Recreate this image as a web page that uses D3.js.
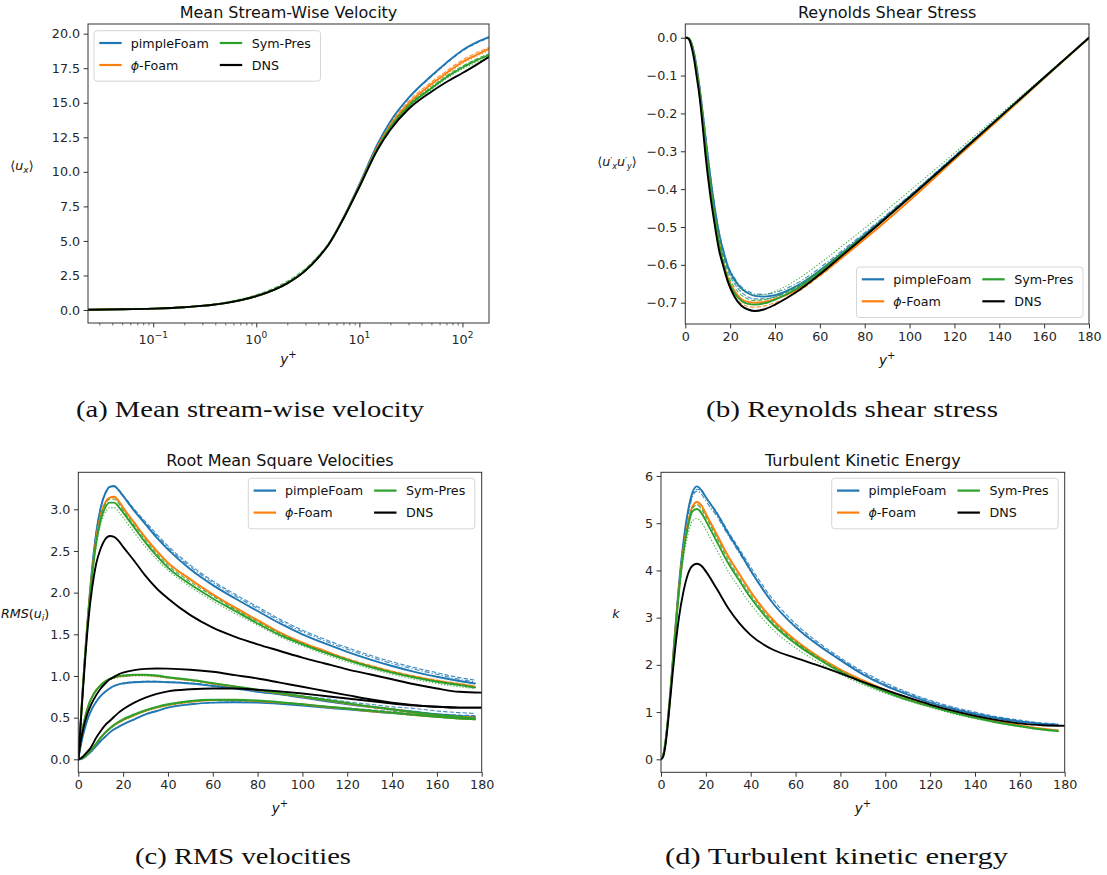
<!DOCTYPE html>
<html><head><meta charset="utf-8">
<script src="https://cdn.jsdelivr.net/npm/d3@7"></script>
<style>
body{margin:0;background:#fff;}
</style></head><body>
<svg id="fig" width="1107" height="875" style="font-family:'DejaVu Sans',sans-serif"></svg>
<script>
// ---------------- DATA ----------------
const methods = ["pimpleFoam", "ϕ-Foam", "Sym-Pres", "DNS"];

// (a) mean stream-wise velocity, log y+
const yA = [0.0233,0.05,0.1,0.2,0.5,1,1.5,2,3,4,5,7,10,15,20,30,50,70,100,140,180];
const aDNS     = [0.023,0.05,0.1,0.2,0.5,1.0,1.47,1.93,2.85,3.8,4.7,6.6,8.9,11.6,13.05,14.55,15.8,16.5,17.15,17.8,18.3];
const aPimple  = [0.023,0.05,0.1,0.2,0.5,1.0,1.48,1.95,2.88,3.83,4.74,6.68,9.1,12.0,13.65,15.35,16.95,17.9,18.8,19.4,19.75];
const aPimple2 = [0.023,0.05,0.1,0.2,0.5,1.0,1.48,1.95,2.88,3.83,4.74,6.68,9.1,11.95,13.6,15.3,16.9,17.85,18.75,19.35,19.68];
const aPhi     = [0.023,0.05,0.1,0.2,0.5,1.0,1.48,1.95,2.87,3.82,4.72,6.65,9.0,11.8,13.35,14.95,16.35,17.15,17.95,18.5,18.9];
const aPhi2    = [0.023,0.05,0.1,0.2,0.5,1.0,1.48,1.95,2.87,3.82,4.72,6.65,9.0,11.85,13.45,15.1,16.5,17.3,18.1,18.65,19.0];
const aPhi3    = [0.023,0.05,0.1,0.2,0.5,1.0,1.48,1.95,2.87,3.82,4.72,6.64,8.98,11.75,13.27,14.85,16.25,17.05,17.85,18.4,18.75];
const aSym     = [0.023,0.05,0.1,0.2,0.5,1.0,1.48,1.95,2.87,3.81,4.71,6.62,8.95,11.7,13.2,14.75,16.05,16.85,17.55,18.1,18.45];
const aSym2    = [0.023,0.05,0.1,0.21,0.55,1.1,1.6,2.08,3.0,3.92,4.8,6.7,9.0,11.75,13.3,14.85,16.15,16.95,17.65,18.2,18.55];
const aSym3    = [0.023,0.05,0.1,0.2,0.5,1.0,1.48,1.95,2.86,3.8,4.7,6.6,8.92,11.65,13.13,14.65,15.95,16.75,17.45,17.95,18.3];

// (b) Reynolds shear stress
const yB = [0,1,2,3,4,5,6,7,8,9,11,13,15,17,19,22,25,28,31,35,40,50,60,70,80,100,120,140,160,180];
const bDNS     = [0,-0.001,-0.008,-0.03,-0.06,-0.10,-0.14,-0.19,-0.25,-0.31,-0.41,-0.49,-0.56,-0.605,-0.645,-0.685,-0.708,-0.718,-0.722,-0.718,-0.705,-0.67,-0.625,-0.575,-0.525,-0.422,-0.317,-0.211,-0.105,0];
const bPimple  = [0,0,-0.004,-0.018,-0.042,-0.076,-0.115,-0.16,-0.21,-0.262,-0.36,-0.445,-0.515,-0.565,-0.605,-0.64,-0.662,-0.675,-0.682,-0.684,-0.68,-0.655,-0.615,-0.568,-0.52,-0.42,-0.315,-0.21,-0.105,0];
const bPimple2 = [0,0,-0.005,-0.02,-0.045,-0.08,-0.12,-0.166,-0.218,-0.27,-0.37,-0.455,-0.525,-0.578,-0.615,-0.65,-0.672,-0.685,-0.69,-0.69,-0.685,-0.658,-0.616,-0.569,-0.52,-0.42,-0.315,-0.21,-0.105,0];
const bPimple3 = [0,0,-0.004,-0.017,-0.04,-0.073,-0.11,-0.155,-0.205,-0.255,-0.352,-0.44,-0.51,-0.56,-0.6,-0.635,-0.658,-0.67,-0.677,-0.678,-0.673,-0.648,-0.608,-0.562,-0.515,-0.416,-0.312,-0.208,-0.104,0];
const bPhi     = [0,0,-0.006,-0.022,-0.05,-0.085,-0.125,-0.172,-0.225,-0.28,-0.385,-0.47,-0.54,-0.595,-0.635,-0.67,-0.69,-0.698,-0.7,-0.698,-0.69,-0.666,-0.627,-0.58,-0.532,-0.43,-0.322,-0.215,-0.107,0];
const bPhi2    = [0,0,-0.006,-0.023,-0.052,-0.088,-0.13,-0.178,-0.232,-0.288,-0.395,-0.482,-0.553,-0.608,-0.648,-0.683,-0.702,-0.71,-0.712,-0.709,-0.7,-0.672,-0.63,-0.582,-0.533,-0.43,-0.322,-0.215,-0.107,0];
const bSym     = [0,0,-0.006,-0.023,-0.05,-0.087,-0.13,-0.176,-0.23,-0.285,-0.39,-0.475,-0.545,-0.6,-0.64,-0.675,-0.695,-0.703,-0.705,-0.702,-0.692,-0.662,-0.62,-0.572,-0.524,-0.422,-0.317,-0.211,-0.106,0];
const bSym2    = [0,0,-0.005,-0.02,-0.046,-0.08,-0.12,-0.165,-0.218,-0.272,-0.375,-0.46,-0.53,-0.585,-0.625,-0.66,-0.68,-0.69,-0.694,-0.692,-0.684,-0.655,-0.614,-0.567,-0.52,-0.42,-0.316,-0.211,-0.105,0];
const bSym3    = [0,0,-0.005,-0.02,-0.046,-0.08,-0.12,-0.165,-0.215,-0.268,-0.37,-0.452,-0.52,-0.572,-0.61,-0.645,-0.665,-0.675,-0.68,-0.679,-0.67,-0.638,-0.596,-0.55,-0.503,-0.405,-0.305,-0.204,-0.102,0];

// (c) RMS velocities (u, w, v components)
const yC    = [0,1,2,3,4,5,6,8,10,12,14,16,18,20,25,30,35,40,50,60,70,80,90,100,110,120,130,140,150,160,170,177];
const yCdns = [0,1,2,3,4,5,6,8,10,12,14,16,18,20,25,30,35,40,50,60,70,80,90,100,110,120,130,140,150,160,170,180];
const cDNSu = [0,0.4,0.8,1.18,1.52,1.8,2.02,2.35,2.53,2.64, 2.68,2.67,2.62,2.55,2.38,2.2,2.05,1.93,1.73,1.58, 1.47,1.38,1.3,1.22,1.15,1.08,1.02,0.96,0.9,0.85, 0.81,0.80];
const cDNSw = [0,0.2,0.34,0.45,0.54,0.61,0.67,0.77,0.85,0.91, 0.96,0.99,1.02,1.04,1.07,1.085,1.09,1.088,1.075,1.05, 1.01,0.97,0.92,0.87,0.82,0.77,0.72,0.68,0.65,0.63, 0.62,0.62];
const cDNSv = [0,0.01,0.03,0.06,0.09,0.12,0.16,0.26,0.34,0.41, 0.46,0.51,0.56,0.6,0.68,0.74,0.785,0.815,0.84,0.85, 0.85,0.835,0.815,0.79,0.76,0.73,0.70,0.67,0.645,0.63, 0.62,0.62];
const cPimpleU  = [0,0.42,0.85,1.25,1.62,1.95,2.25,2.72,3.02,3.19, 3.27,3.28,3.23,3.16,2.98,2.82,2.66,2.52,2.28,2.09, 1.93,1.78,1.63,1.5,1.39,1.29,1.2,1.12,1.05,0.99, 0.94,0.91];
const cPimpleU2 = [0,0.42,0.85,1.25,1.62,1.95,2.25,2.72,3.02,3.19, 3.27,3.28,3.24,3.17,3.0,2.85,2.7,2.56,2.33,2.14, 1.98,1.83,1.68,1.55,1.44,1.34,1.25,1.17,1.1,1.04, 0.98,0.95];
const cPimpleU3 = [0,0.42,0.85,1.25,1.62,1.95,2.25,2.72,3.02,3.18, 3.26,3.27,3.22,3.16,2.99,2.83,2.68,2.54,2.31,2.12, 1.96,1.81,1.66,1.53,1.42,1.32,1.23,1.15,1.08,1.02, 0.96,0.93];
const cPhiU  = [0,0.42,0.85,1.25,1.6,1.93,2.2,2.65,2.93,3.08, 3.14,3.15,3.1,3.02,2.84,2.66,2.5,2.36,2.16,1.98, 1.82,1.67,1.52,1.4,1.3,1.2,1.12,1.05,0.99,0.94, 0.9,0.87];
const cPhiU2 = [0,0.42,0.85,1.25,1.6,1.93,2.2,2.64,2.92,3.07, 3.13,3.14,3.09,3.01,2.83,2.65,2.49,2.35,2.15,1.97, 1.81,1.66,1.52,1.4,1.3,1.21,1.13,1.06,1.0,0.95, 0.91,0.88];
const cSymU  = [0,0.42,0.85,1.24,1.58,1.9,2.17,2.6,2.87,3.02, 3.08,3.08,3.03,2.96,2.78,2.6,2.44,2.3,2.1,1.93, 1.78,1.63,1.49,1.38,1.28,1.19,1.11,1.04,0.98,0.93, 0.89,0.86];
const cSymU2 = [0,0.41,0.83,1.22,1.56,1.87,2.13,2.55,2.82,2.96, 3.02,3.02,2.97,2.9,2.72,2.55,2.4,2.27,2.07,1.9, 1.75,1.61,1.47,1.36,1.26,1.17,1.09,1.02,0.96,0.91, 0.87,0.85];
const cSymU3 = [0,0.42,0.85,1.25,1.6,1.92,2.19,2.63,2.91,3.06, 3.12,3.12,3.07,2.99,2.81,2.63,2.47,2.33,2.13,1.96, 1.8,1.65,1.51,1.39,1.29,1.2,1.12,1.05,0.99,0.94, 0.9,0.87];
const cPimpleW  = [0,0.15,0.28,0.38,0.47,0.54,0.6,0.69,0.76,0.81, 0.85,0.88,0.9,0.91,0.925,0.93,0.93,0.925,0.91,0.88, 0.85,0.81,0.78,0.74,0.70,0.66,0.63,0.6,0.57,0.54, 0.52,0.51];
const cPimpleW2 = [0,0.15,0.28,0.38,0.47,0.54,0.6,0.69,0.76,0.81, 0.85,0.88,0.9,0.915,0.93,0.935,0.935,0.93,0.915,0.89, 0.86,0.83,0.8,0.76,0.73,0.69,0.66,0.63,0.61,0.58, 0.56,0.55];
const cPhiW  = [0,0.22,0.38,0.5,0.6,0.68,0.74,0.83,0.89,0.93, 0.96,0.98,0.995,1.0,1.01,1.01,1.0,0.98,0.95,0.91, 0.87,0.83,0.79,0.75,0.71,0.67,0.63,0.6,0.56,0.53, 0.51,0.5];
const cSymW  = [0,0.22,0.38,0.5,0.6,0.68,0.74,0.83,0.89,0.935, 0.965,0.985,1.0,1.005,1.015,1.015,1.005,0.985,0.955,0.915, 0.875,0.835,0.795,0.755,0.715,0.675,0.635,0.6,0.565,0.535, 0.51,0.49];
const cSymW2 = [0,0.21,0.37,0.49,0.59,0.67,0.73,0.82,0.88,0.92, 0.95,0.97,0.985,0.99,1.0,1.0,0.99,0.975,0.945,0.905, 0.865,0.825,0.785,0.745,0.705,0.665,0.625,0.59,0.555,0.525, 0.5,0.49];
const cPimpleV  = [0,0.003,0.012,0.028,0.05,0.075,0.1,0.16,0.22,0.27, 0.32,0.36,0.39,0.42,0.48,0.54,0.58,0.62,0.66,0.68, 0.685,0.68,0.665,0.645,0.62,0.6,0.575,0.555,0.535,0.52, 0.505,0.5];
const cPimpleV2 = [0,0.003,0.012,0.028,0.05,0.075,0.1,0.16,0.22,0.27, 0.32,0.36,0.39,0.42,0.48,0.54,0.58,0.62,0.66,0.68, 0.69,0.685,0.675,0.655,0.635,0.615,0.595,0.575,0.56,0.545, 0.53,0.525];
const cPhiV  = [0,0.004,0.015,0.035,0.06,0.09,0.12,0.19,0.26,0.32, 0.37,0.41,0.44,0.47,0.53,0.58,0.62,0.65,0.69,0.71, 0.71,0.70,0.68,0.66,0.63,0.61,0.58,0.56,0.53,0.51, 0.49,0.48];
const cSymV  = [0,0.004,0.015,0.035,0.06,0.09,0.12,0.19,0.26,0.32, 0.37,0.415,0.45,0.48,0.54,0.59,0.63,0.66,0.7,0.715, 0.715,0.705,0.685,0.66,0.635,0.61,0.585,0.56,0.535,0.51, 0.49,0.48];
const cSymV2 = [0,0.004,0.014,0.033,0.058,0.087,0.117,0.185,0.25,0.31, 0.36,0.4,0.435,0.465,0.525,0.575,0.615,0.645,0.685,0.705, 0.705,0.695,0.675,0.655,0.625,0.6,0.575,0.55,0.525,0.505, 0.485,0.475];

// (d) turbulent kinetic energy
const dDNS     = [0,0.06,0.3,0.72,1.22,1.72,2.2,3.0,3.55,3.92, 4.1,4.14,4.1,3.98,3.6,3.2,2.88,2.63,2.32,2.15, 1.99,1.82,1.64,1.47,1.31,1.16,1.03,0.92,0.83,0.76, 0.72,0.71];
const dPimple  = [0,0.09,0.38,0.82,1.35,1.95,2.55,3.7,4.6,5.25, 5.65,5.78,5.7,5.55,5.2,4.78,4.4,4.0,3.3,2.8, 2.42,2.1,1.8,1.56,1.37,1.2,1.07,0.96,0.87,0.8, 0.75,0.72];
const dPimple2 = [0,0.09,0.38,0.82,1.35,1.95,2.55,3.7,4.58,5.2, 5.6,5.72,5.68,5.55,5.22,4.82,4.45,4.07,3.38,2.87, 2.48,2.15,1.86,1.62,1.42,1.25,1.11,1.0,0.9,0.83, 0.77,0.75];
const dPimple3 = [0,0.09,0.38,0.82,1.35,1.95,2.55,3.68,4.55,5.15, 5.55,5.68,5.62,5.47,5.14,4.74,4.36,3.98,3.3,2.82, 2.44,2.12,1.83,1.59,1.4,1.23,1.09,0.98,0.89,0.81, 0.76,0.74];
const dPhi     = [0,0.09,0.37,0.8,1.3,1.9,2.5,3.6,4.45,5.0, 5.35,5.45,5.38,5.2,4.75,4.3,3.92,3.55,2.95,2.52, 2.18,1.9,1.67,1.47,1.3,1.15,1.02,0.91,0.81,0.72, 0.65,0.61];
const dPhi2    = [0,0.09,0.37,0.8,1.3,1.88,2.47,3.56,4.4,4.95, 5.3,5.4,5.34,5.17,4.72,4.28,3.9,3.53,2.93,2.5, 2.17,1.89,1.66,1.46,1.29,1.14,1.01,0.9,0.8,0.72, 0.65,0.62];
const dSym     = [0,0.09,0.37,0.79,1.28,1.87,2.45,3.55,4.38,4.92, 5.25,5.3,5.22,5.05,4.6,4.15,3.78,3.42,2.85,2.45, 2.13,1.85,1.62,1.43,1.26,1.12,0.99,0.88,0.78,0.7, 0.63,0.6];
const dSym2    = [0,0.09,0.36,0.77,1.25,1.82,2.38,3.45,4.25,4.75, 5.05,5.1,5.02,4.86,4.42,3.98,3.62,3.28,2.74,2.36, 2.06,1.8,1.58,1.4,1.24,1.1,0.97,0.86,0.77,0.69, 0.62,0.59];
const dSym3    = [0,0.09,0.37,0.8,1.3,1.9,2.48,3.6,4.42,4.98, 5.32,5.38,5.3,5.13,4.68,4.22,3.84,3.48,2.9,2.49, 2.16,1.88,1.64,1.45,1.28,1.13,1.0,0.89,0.79,0.71, 0.64,0.6];

// ticks
const aLogMajor = [0.1, 1, 10, 100];
const aLogLabels = ["−1", "0", "1", "2"];
const aYTicks = [0, 2.5, 5, 7.5, 10, 12.5, 15, 17.5, 20];
const linTicksX = [0,20,40,60,80,100,120,140,160,180];
const bYTicks = [0,-0.1,-0.2,-0.3,-0.4,-0.5,-0.6,-0.7];
const cYTicks = [0,0.5,1,1.5,2,2.5,3];
const dYTicks = [0,1,2,3,4,5,6];

// ---------------- DRAWING ----------------
const svg = d3.select('#fig');
const COL = {pimple:'#1f77b4', phi:'#ff7f0e', sym:'#2ca02c', dns:'#000000'};
const FS = 12.7;
const STY = {
  main:{w:1.9, dash:null, op:1},
  dash:{w:1.1, dash:'4.5,2', op:0.85},
  dot:{w:1.1, dash:'1.3,1.8', op:0.85},
  dashdot:{w:1.1, dash:'5,2,1.3,2', op:0.85}
};
function S(x, y, color, st){ return {x, y, color, st: STY[st]}; }

function drawPanel(p){
  const g = svg.append('g');
  const x = (p.xlog ? d3.scaleLog() : d3.scaleLinear()).domain(p.xDomain).range([p.l, p.r]);
  const y = d3.scaleLinear().domain(p.yDomain).range([p.b, p.t]);
  const cid = 'clip' + p.id;
  g.append('clipPath').attr('id', cid).append('rect')
    .attr('x', p.l).attr('y', p.t).attr('width', p.r - p.l).attr('height', p.b - p.t);
  const lg = g.append('g').attr('clip-path', `url(#${cid})`);
  p.series.forEach(s => {
    const line = d3.line().x((d, i) => x(s.x[i])).y(d => y(d)).curve(d3.curveMonotoneX);
    lg.append('path').attr('d', line(s.y)).attr('fill', 'none')
      .attr('stroke', s.color).attr('stroke-width', s.st.w)
      .attr('stroke-dasharray', s.st.dash).attr('opacity', s.st.op)
      .attr('stroke-linejoin', 'round').attr('stroke-linecap', s.st.dash ? 'butt' : 'round');
  });

  // x axis
  if (p.xlog) {
    const minor = [];
    [0.01, 0.1, 1, 10, 100].forEach(dec => { for (let k = 2; k <= 9; k++) { const v = dec * k; if (v >= p.xDomain[0] && v <= p.xDomain[1]) minor.push(v); } });
    const gm = g.append('g').attr('transform', `translate(0,${p.b})`)
      .call(d3.axisBottom(x).tickValues(minor).tickSize(2.5).tickFormat(''));
    gm.select('.domain').remove();
    gm.selectAll('line').attr('stroke', '#333').attr('stroke-width', 0.7);
    const gM = g.append('g').attr('transform', `translate(0,${p.b})`)
      .call(d3.axisBottom(x).tickValues(aLogMajor).tickSize(4.4).tickFormat(''));
    gM.select('.domain').remove();
    gM.selectAll('line').attr('stroke', '#333').attr('stroke-width', 1);
    aLogMajor.forEach((v, i) => {
      const t = g.append('text').attr('x', x(v)).attr('y', p.b + 21).attr('text-anchor', 'middle')
        .attr('font-size', FS).attr('fill', '#262626');
      t.append('tspan').text('10');
      t.append('tspan').attr('dy', -6).attr('font-size', 9).text(aLogLabels[i]);
    });
  } else {
    const gx = g.append('g').attr('transform', `translate(0,${p.b})`)
      .call(d3.axisBottom(x).tickValues(p.xTicks).tickSize(4.4).tickPadding(3.5).tickFormat(d3.format('d')));
    gx.select('.domain').remove();
    gx.attr('font-family', null).attr('font-size', null);
    gx.selectAll('text').attr('font-size', FS).attr('fill', '#262626');
    gx.selectAll('line').attr('stroke', '#333');
  }
  // y axis
  const gy = g.append('g').attr('transform', `translate(${p.l},0)`)
    .call(d3.axisLeft(y).tickValues(p.yTicks).tickSize(4.4).tickPadding(3.5).tickFormat(p.yFmt));
  gy.select('.domain').remove();
  gy.attr('font-family', null).attr('font-size', null);
  gy.selectAll('text').attr('font-size', FS).attr('fill', '#262626');
  gy.selectAll('line').attr('stroke', '#333');

  // spines
  g.append('rect').attr('x', p.l).attr('y', p.t).attr('width', p.r - p.l).attr('height', p.b - p.t)
    .attr('fill', 'none').attr('stroke', '#333').attr('stroke-width', 1);

  // title
  g.append('text').attr('x', (p.l + p.r) / 2).attr('y', p.t - 6.5).attr('text-anchor', 'middle')
    .attr('font-size', 16).attr('fill', '#111').text(p.title);

  // x label  y+
  const xl = g.append('text').attr('x', (p.l + p.r) / 2).attr('y', p.b + 41).attr('text-anchor', 'middle')
    .attr('font-size', 13.5).attr('fill', '#111');
  xl.append('tspan').attr('font-style', 'italic').text('y');
  xl.append('tspan').attr('dy', -6).attr('font-size', 10).text('+');

  // y label
  p.ylabel(g);

  // legend
  const L = p.legend;
  g.append('rect').attr('x', L.x).attr('y', L.y).attr('width', 226.5).attr('height', 50.5).attr('rx', 3)
    .attr('fill', '#fff').attr('fill-opacity', 0.8).attr('stroke', '#d6d6d6').attr('stroke-width', 1);
  const entries = [
    {lab: methods[0], c: COL.pimple, col: 0, row: 0},
    {lab: methods[1], c: COL.phi, col: 0, row: 1},
    {lab: methods[2], c: COL.sym, col: 1, row: 0},
    {lab: methods[3], c: COL.dns, col: 1, row: 1}
  ];
  entries.forEach(e => {
    const hy = L.y + 12.3 + e.row * 22;
    const hx = L.x + 5.3 + e.col * 120.5;
    g.append('line').attr('x1', hx).attr('x2', hx + 22.4).attr('y1', hy).attr('y2', hy)
      .attr('stroke', e.c).attr('stroke-width', 2.2);
    const t = g.append('text').attr('x', L.x + 36.7 + e.col * 121).attr('y', hy).attr('dy', '0.36em')
      .attr('font-size', FS).attr('fill', '#111');
    if (e.lab === 'ϕ-Foam') {
      t.append('tspan').attr('font-style', 'italic').text('ϕ');
      t.append('tspan').text('-Foam');
    } else t.text(e.lab);
  });
}

function mathLabel(g, xpos, ypos, anchor, parts){
  const t = g.append('text').attr('x', xpos).attr('y', ypos).attr('text-anchor', anchor)
    .attr('font-size', FS).attr('fill', '#111');
  parts.forEach(pt => {
    const s = t.append('tspan').text(pt.t);
    if (pt.i) s.attr('font-style', 'italic');
    if (pt.fs) s.attr('font-size', pt.fs);
    if (pt.dy) s.attr('dy', pt.dy);
  });
}

const fmt1 = d3.format('.1f');

// (a)
drawPanel({
  id: 'a', l: 88, r: 489, t: 24, b: 323, xlog: true, xDomain: [0.0233, 181],
  yDomain: [-0.94, 20.7], yTicks: aYTicks, yFmt: fmt1,
  title: 'Mean Stream-Wise Velocity', legend: {x: 94, y: 30.7},
  ylabel: g => mathLabel(g, 22, 170, 'middle', [{t:'⟨'},{t:'u',i:1},{t:'x',i:1,fs:9,dy:3},{t:'⟩',dy:-3}]),
  series: [
    S(yA, aPimple2, COL.pimple, 'dash'), S(yA, aPimple, COL.pimple, 'main'),
    S(yA, aPhi2, COL.phi, 'dash'), S(yA, aPhi3, COL.phi, 'dot'), S(yA, aPhi, COL.phi, 'main'),
    S(yA, aSym2, COL.sym, 'dash'), S(yA, aSym3, COL.sym, 'dot'), S(yA, aSym, COL.sym, 'main'),
    S(yA, aDNS, COL.dns, 'main')
  ]
});

// (b)
drawPanel({
  id: 'b', l: 685.3, r: 1089, t: 24, b: 324, xDomain: [0, 180], xTicks: linTicksX,
  yDomain: [-0.7563, 0.0363], yTicks: bYTicks, yFmt: fmt1,
  title: 'Reynolds Shear Stress', legend: {x: 856.5, y: 267},
  ylabel: g => mathLabel(g, 617, 166, 'middle', [{t:'⟨'},{t:'u',i:1},{t:'′',fs:9,dy:-2},{t:'x',i:1,fs:8,dy:5},{t:'u',i:1,dy:-3},{t:'′',fs:9,dy:-2},{t:'y',i:1,fs:8,dy:5},{t:'⟩',dy:-3}]),
  series: [
    S(yB, bPimple2, COL.pimple, 'dash'), S(yB, bPimple3, COL.pimple, 'dashdot'), S(yB, bPimple, COL.pimple, 'main'),
    S(yB, bPhi2, COL.phi, 'dash'), S(yB, bPhi, COL.phi, 'main'),
    S(yB, bSym2, COL.sym, 'dash'), S(yB, bSym3, COL.sym, 'dot'), S(yB, bSym, COL.sym, 'main'),
    S(yB, bDNS, COL.dns, 'main')
  ]
});

// (c)
drawPanel({
  id: 'c', l: 78.3, r: 481.7, t: 472.3, b: 772.3, xDomain: [0, 180], xTicks: linTicksX,
  yDomain: [-0.156, 3.444], yTicks: cYTicks, yFmt: fmt1,
  title: 'Root Mean Square Velocities', legend: {x: 248.3, y: 478.3},
  ylabel: g => mathLabel(g, 1, 618, 'start', [{t:'RMS',i:1},{t:'('},{t:'u',i:1},{t:'i',i:1,fs:9,dy:3},{t:')',dy:-3}]),
  series: [
    S(yC, cPimpleU2, COL.pimple, 'dash'), S(yC, cPimpleU3, COL.pimple, 'dashdot'), S(yC, cPimpleU, COL.pimple, 'main'),
    S(yC, cPimpleW2, COL.pimple, 'dash'), S(yC, cPimpleW, COL.pimple, 'main'),
    S(yC, cPimpleV2, COL.pimple, 'dash'), S(yC, cPimpleV, COL.pimple, 'main'),
    S(yC, cPhiU2, COL.phi, 'dash'), S(yC, cPhiU, COL.phi, 'main'),
    S(yC, cPhiW, COL.phi, 'main'), S(yC, cPhiV, COL.phi, 'main'),
    S(yC, cSymU2, COL.sym, 'dot'), S(yC, cSymU3, COL.sym, 'dash'), S(yC, cSymU, COL.sym, 'main'),
    S(yC, cSymW2, COL.sym, 'dot'), S(yC, cSymW, COL.sym, 'main'),
    S(yC, cSymV2, COL.sym, 'dot'), S(yC, cSymV, COL.sym, 'main'),
    S(yCdns, cDNSu, COL.dns, 'main'), S(yCdns, cDNSw, COL.dns, 'main'), S(yCdns, cDNSv, COL.dns, 'main')
  ]
});

// (d)
drawPanel({
  id: 'd', l: 661, r: 1064.7, t: 472.3, b: 772.3, xDomain: [0, 180], xTicks: linTicksX,
  yDomain: [-0.275, 6.078], yTicks: dYTicks, yFmt: d3.format('d'),
  title: 'Turbulent Kinetic Energy', legend: {x: 831.7, y: 478.3},
  ylabel: g => mathLabel(g, 616, 618, 'middle', [{t:'k',i:1}]),
  series: [
    S(yC, dPimple2, COL.pimple, 'dash'), S(yC, dPimple3, COL.pimple, 'dashdot'), S(yC, dPimple, COL.pimple, 'main'),
    S(yC, dPhi2, COL.phi, 'dash'), S(yC, dPhi, COL.phi, 'main'),
    S(yC, dSym2, COL.sym, 'dot'), S(yC, dSym3, COL.sym, 'dash'), S(yC, dSym, COL.sym, 'main'),
    S(yCdns, dDNS, COL.dns, 'main')
  ]
});

// captions
const captions = [
  {t: '(a) Mean stream-wise velocity', x: 76, y: 417, w: 348},
  {t: '(b) Reynolds shear stress', x: 706, y: 417, w: 292},
  {t: '(c) RMS velocities', x: 135, y: 864, w: 216},
  {t: '(d) Turbulent kinetic energy', x: 665, y: 864, w: 343}
];
captions.forEach(c => {
  svg.append('text').attr('x', c.x).attr('y', c.y).attr('font-size', 24)
    .style('font-family', '"Liberation Serif", "DejaVu Serif", serif').attr('fill', '#111')
    .attr('textLength', c.w).attr('lengthAdjust', 'spacingAndGlyphs').text(c.t);
});
</script>
</body></html>
